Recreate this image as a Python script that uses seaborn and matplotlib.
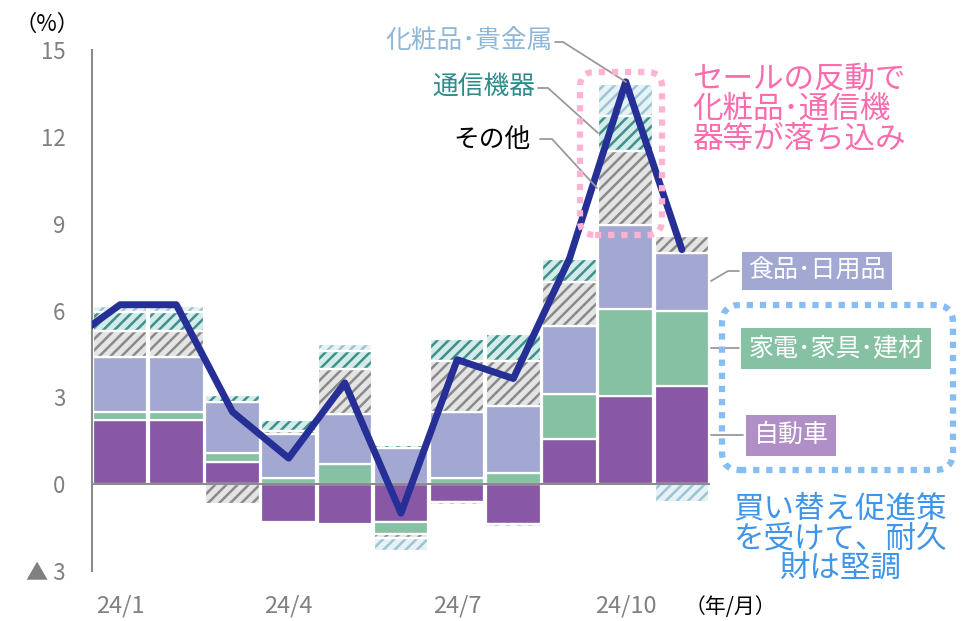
import numpy as np
import matplotlib
matplotlib.use("Agg")
import matplotlib.pyplot as plt
import matplotlib.transforms as mtransforms
from matplotlib.lines import Line2D
from matplotlib.patches import FancyBboxPatch
import seaborn as sns

# ==========================================
# DATA (contribution to y/y change, %pt)
# ==========================================

months = ["24/1", "24/2", "24/3", "24/4", "24/5", "24/6",
          "24/7", "24/8", "24/9", "24/10", "24/11"]

auto = [2.2, 2.2, 0.77, -1.3, -1.36, -1.3, -0.63, -1.36, 1.57, 3.03, 3.39]
durables = [0.3, 0.3, 0.3, 0.22, 0.71, -0.42, 0.2, 0.39, 1.55, 3.01, 2.61]
food = [1.88, 1.88, 1.76, 1.51, 1.73, 1.25, 2.29, 2.31, 2.34, 2.91, 2.0]
other = [0.92, 0.92, -0.7, 0.1, 1.53, -0.15, 1.76, 1.56, 1.54, 2.55, 0.58]
comm = [0.66, 0.66, 0.24, 0.4, 0.64, 0.1, 0.75, 0.92, 0.77, 1.22, 0.0]
cosm = [0.2, 0.2, 0.09, 0.0, 0.23, -0.45, -0.08, -0.12, 0.0, 1.1, -0.6]

# total line, starting one month earlier (23/12), clipped by the axes
line_months = ["23/12"] + months
total = [4.8, 6.2, 6.2, 2.5, 0.9, 3.5, -1.0, 4.3, 3.65, 7.8, 13.9, 8.1]

xtick_labels = ["24/1", "24/4", "24/7", "24/10"]
ytick_values = [-3, 0, 3, 6, 9, 12, 15]
ytick_labels = ["▲ 3", "0", "3", "6", "9", "12", "15"]

# ==========================================
# STYLE
# ==========================================

sns.set_theme(style="white")
plt.rcParams["font.family"] = ["Noto Sans CJK JP", "DejaVu Sans"]
plt.rcParams["hatch.linewidth"] = 1.8

PURPLE = "#8857a6"
GREEN = "#86c1a4"
LAVENDER = "#a2a8d1"
NAVY = "#262f96"
GRID_GRAY = "#8c8c8c"
TICK_GRAY = "#808080"

# (values, face colour, hatch colour or None)
layers = [
    (auto, PURPLE, None),
    (durables, GREEN, None),
    (food, LAVENDER, None),
    (other, "#e4e4e4", "#8a8a8a"),
    (comm, "#d3ebe9", "#3f8f8c"),
    (cosm, "#e6f2f6", "#9cc4d4"),
]

# ==========================================
# FIGURE
# ==========================================

fig = plt.figure(figsize=(9.66, 6.21), dpi=100)
ax = fig.add_axes([92 / 966, 50 / 621, 618 / 966, 521 / 621])

x = np.arange(len(months))
pos_base = np.zeros(len(months))
neg_base = np.zeros(len(months))
bar_w = 0.97

for vals, face, hatch_color in layers:
    v = np.array(vals, dtype=float)
    bottom = np.where(v >= 0, pos_base, neg_base)
    keep = v != 0
    if hatch_color:
        ax.bar(x[keep], v[keep], bottom=bottom[keep], width=bar_w,
               color=face, edgecolor=hatch_color, hatch="///",
               linewidth=0, zorder=2)
        ax.bar(x[keep], v[keep], bottom=bottom[keep], width=bar_w,
               fill=False, edgecolor="white", linewidth=1.6, zorder=2.1)
    else:
        ax.bar(x[keep], v[keep], bottom=bottom[keep], width=bar_w,
               color=face, edgecolor="white", linewidth=1.6, zorder=2)
    pos_base += np.clip(v, 0, None)
    neg_base += np.clip(v, None, 0)

ax.axhline(0, color=GRID_GRAY, linewidth=1.5, zorder=2.5)

sns.lineplot(
    x=np.arange(-1, len(months)),
    y=total,
    color=NAVY,
    linewidth=5,
    sort=False,
    zorder=3,
    ax=ax
)

ax.set_xlim(-0.5, len(months) - 0.5)
ax.set_ylim(-3, 15)

ax.set_yticks(ytick_values)
ax.set_yticklabels(ytick_labels)
ax.set_xticks([0, 3, 6, 9])
ax.set_xticklabels(xtick_labels)
ax.tick_params(axis="y", length=0, pad=19, labelsize=16, labelcolor=TICK_GRAY)
ax.tick_params(axis="x", length=0, pad=17, labelsize=17, labelcolor=TICK_GRAY)
ax.set_xlabel("")
ax.set_ylabel("")

for side in ["top", "right", "bottom"]:
    ax.spines[side].set_visible(False)
ax.spines["left"].set_color(GRID_GRAY)
ax.spines["left"].set_linewidth(1.5)

# ==========================================
# ANNOTATIONS (pixel positions, top-left origin)
# ==========================================

px = mtransforms.Affine2D().scale(1, -1).translate(0, 621)
LEAD = "#9a9a9a"


def leader(xs, ys):
    fig.add_artist(Line2D(xs, ys, color=LEAD, linewidth=1.3, transform=px, zorder=4))


fig.text(47, 24, "（%）", transform=px, ha="center", va="center",
         fontsize=16, color="black")
fig.text(730, 607, "（年/月）", transform=px, ha="center", va="center",
         fontsize=15, color="black")

# labels on the 24/10 bar
fig.text(553, 42, "化粧品･貴金属", transform=px, ha="right", va="center",
         fontsize=18.5, color="#8fb8d8")
leader([555, 563, 626], [42, 42, 82])

fig.text(535, 88, "通信機器", transform=px, ha="right", va="center",
         fontsize=18.5, color="#2e8b8b")
leader([538, 548, 598], [88, 88, 133])

fig.text(531, 140, "その他", transform=px, ha="right", va="center",
         fontsize=18.5, color="black")
leader([540, 552, 597], [139, 139, 188])

# labels on the 24/11 bar
fig.text(817, 271, "食品･日用品", transform=px, ha="center", va="center",
         fontsize=18, color="white",
         bbox=dict(boxstyle="square,pad=0.25", fc=LAVENDER, ec="none"))
leader([711, 728, 739], [281, 271, 271])

fig.text(836, 348, "家電･家具･建材", transform=px, ha="center", va="center",
         fontsize=18, color="white",
         bbox=dict(boxstyle="square,pad=0.3", fc=GREEN, ec="none"))
leader([711, 739], [348, 348])

fig.text(791, 435, "自動車", transform=px, ha="center", va="center",
         fontsize=18, color="white",
         bbox=dict(boxstyle="square,pad=0.3", fc="#b08fc6", ec="none"))
leader([711, 743], [435, 435])

# blue dotted frame and comment
fig.add_artist(FancyBboxPatch(
    (7.22, 1.51), 2.31, 1.65,
    boxstyle="round,pad=0,rounding_size=0.18",
    transform=fig.dpi_scale_trans,
    fill=False, edgecolor="#86bdf2", linewidth=4.5,
    linestyle=(0, (1, 1.1)), zorder=5
))
fig.text(840, 539, "買い替え促進策\nを受けて、耐久\n財は堅調", transform=px,
         ha="center", va="center", multialignment="center",
         fontsize=22, color="#3f95e8", linespacing=0.95)

# pink dotted frame and comment
fig.add_artist(FancyBboxPatch(
    (5.80, 3.86), 0.82, 1.63,
    boxstyle="round,pad=0,rounding_size=0.15",
    transform=fig.dpi_scale_trans,
    fill=False, edgecolor="#ffb3d4", linewidth=4.5,
    linestyle=(0, (1, 1.1)), zorder=5
))
fig.text(692, 109, "セールの反動で\n化粧品･通信機\n器等が落ち込み", transform=px,
         ha="left", va="center", multialignment="left",
         fontsize=22, color="#f96cae", linespacing=0.95)

fig.savefig("out.png", dpi=100)
